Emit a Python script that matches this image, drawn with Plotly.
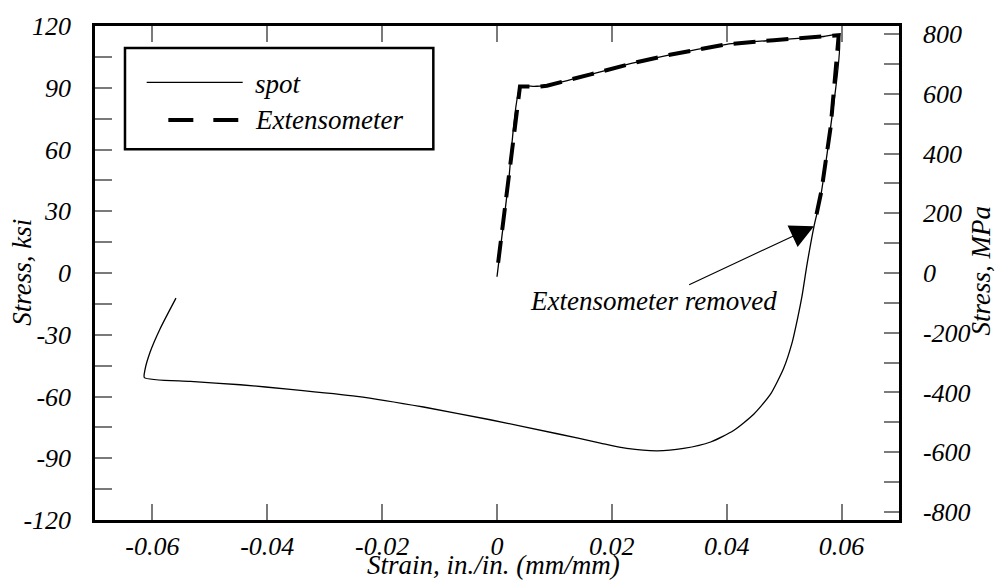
import plotly.graph_objects as go

# ---- data (strain in in./in., stress in ksi) ----
spot_x = [0.0000, 0.0020, 0.0041, 0.0065, 0.0087, 0.0163, 0.0243, 0.0301, 0.0400, 0.0482,
          0.0569, 0.0595, 0.0581, 0.0563, 0.0552, 0.0540, 0.0531, 0.0523, 0.0514, 0.0499,
          0.0476, 0.0447, 0.0412, 0.0372, 0.0325, 0.0279, 0.0226, 0.0180, 0.0105, -0.0012,
          -0.0128, -0.0244, -0.0360, -0.0447, -0.0534, -0.0614, -0.0613, -0.0604, -0.0587, -0.0559]
spot_y = [-1.8, 44.0, 90.5, 90.7, 91.0, 96.5, 102.4, 106.0, 111.1, 113.1,
          114.9, 115.5, 71.0, 36.2, 22.7, 4.4, -11.4, -22.6, -33.7, -46.4,
          -59.0, -68.6, -76.5, -82.1, -85.2, -86.4, -85.2, -82.6, -78.1, -71.3,
          -65.1, -59.9, -56.5, -54.3, -52.7, -50.8, -47.1, -38.4, -27.3, -12.2]

ext_x = [0.0002, 0.0040, 0.0075, 0.0087, 0.0163, 0.0243, 0.0301, 0.0400, 0.0482, 0.0569,
         0.0595, 0.0581, 0.0565, 0.0556]
ext_y = [5.0, 90.6, 90.6, 91.0, 96.5, 102.4, 106.0, 111.1, 113.1, 114.9,
         115.5, 71.0, 40.0, 28.0]

x_ticks = [-0.06, -0.04, -0.02, 0, 0.02, 0.04, 0.06]
x_labels = ["-0.06", "-0.04", "-0.02", "0", "0.02", "0.04", "0.06"]
ksi_ticks = [-120, -90, -60, -30, 0, 30, 60, 90, 120]
ksi_labels = ["-120", "-90", "-60", "-30", "0", "30", "60", "90", "120"]
mpa_ticks = [-800, -600, -400, -200, 0, 200, 400, 600, 800]
mpa_labels = ["-800", "-600", "-400", "-200", "0", "200", "400", "600", "800"]

KSI_TO_MPA = 6.894757
FAM = "Liberation Serif"
TXT = "black"
TICKCOL = "#7a7a7a"


def f(size):
    return dict(family=FAM, size=size, color=TXT, style="italic", weight=400)


fig = go.Figure()
fig.add_trace(go.Scatter(x=spot_x, y=spot_y, mode="lines", name="spot",
                         line=dict(color="black", width=1.3, shape="spline", smoothing=0.6),
                         showlegend=False))
fig.add_trace(go.Scatter(x=ext_x, y=ext_y, mode="lines", name="Extensometer",
                         line=dict(color="black", width=4, dash="22px,11px"), showlegend=False))
# invisible trace to activate the MPa axis
fig.add_trace(go.Scatter(x=[None], y=[None], yaxis="y2", showlegend=False, hoverinfo="skip"))

fig.update_layout(
    width=995, height=584,
    margin=dict(l=95, r=96, t=18, b=64),
    paper_bgcolor="white", plot_bgcolor="white",
    showlegend=False,
    xaxis=dict(range=[-0.07, 0.07], tickvals=x_ticks, ticktext=x_labels,
               ticks="inside", ticklen=16, tickwidth=1.5, tickcolor=TICKCOL,
               showline=True, linecolor="black", linewidth=2.5, mirror="ticks",
               showgrid=False, zeroline=False, ticklabelstandoff=1,
               tickfont=f(26)),
    yaxis=dict(range=[-120, 120], tickvals=ksi_ticks, ticktext=ksi_labels,
               ticks="inside", ticklen=17, tickwidth=1.5, tickcolor=TICKCOL,
               minor=dict(dtick=15, tick0=0, ticks="inside", ticklen=17, tickwidth=1.5, tickcolor=TICKCOL),
               showline=True, linecolor="black", linewidth=2.5,
               showgrid=False, zeroline=False, ticklabelstandoff=16,
               tickfont=f(26)),
    yaxis2=dict(range=[-120 * KSI_TO_MPA, 120 * KSI_TO_MPA], overlaying="y", side="right",
                tickvals=mpa_ticks, ticktext=mpa_labels,
                ticks="inside", ticklen=15, tickwidth=1.5, tickcolor=TICKCOL,
                minor=dict(dtick=100, tick0=0, ticks="inside", ticklen=15, tickwidth=1.5, tickcolor=TICKCOL),
                showline=True, linecolor="black", linewidth=2.5,
                showgrid=False, zeroline=False, ticklabelstandoff=16,
                tickfont=f(26)),
)

# axis titles
fig.add_annotation(text="Strain, in./in. (mm/mm)", xref="paper", yref="paper",
                   x=0.496, y=-0.092, xanchor="center", yanchor="middle", showarrow=False,
                   font=f(27))
fig.add_annotation(text="Stress, ksi", xref="paper", yref="paper",
                   x=-0.091, y=0.502, xanchor="center", yanchor="middle", textangle=-90,
                   showarrow=False, font=f(27))
fig.add_annotation(text="Stress, MPa", xref="paper", yref="paper",
                   x=1.102, y=0.505, xanchor="center", yanchor="middle", textangle=-90,
                   showarrow=False, font=f(27))

# legend (drawn manually)
fig.add_shape(type="rect", xref="paper", yref="paper", x0=0.0373, x1=0.4208, y0=0.7506, y1=0.9556,
              line=dict(color="black", width=2.5), fillcolor="white", layer="below")
fig.add_shape(type="line", xref="paper", yref="paper", x0=0.0643, x1=0.1837, y0=0.886, y1=0.886,
              line=dict(color="black", width=1.3))
fig.add_shape(type="line", xref="paper", yref="paper", x0=0.0912, x1=0.1782, y0=0.8097, y1=0.8097,
              line=dict(color="black", width=4, dash="25px,20px"))
fig.add_annotation(text="spot", xref="paper", yref="paper", x=0.196, y=0.8826,
                   xanchor="left", yanchor="middle", showarrow=False, font=f(27))
fig.add_annotation(text="Extensometer", xref="paper", yref="paper", x=0.196, y=0.8103,
                   xanchor="left", yanchor="middle", showarrow=False, font=f(27))

# "Extensometer removed" callout
fig.add_annotation(text="Extensometer removed", xref="x", yref="y", x=0.0273, y=-13.7,
                   xanchor="center", yanchor="middle", showarrow=False, font=f(27))
fig.add_annotation(text="", xref="x", yref="y", x=0.0552, y=22.7,
                   axref="x", ayref="y", ax=0.0332, ay=-6.0,
                   showarrow=True, arrowhead=2, arrowsize=4.3, arrowwidth=1.1, arrowcolor="black")

fig.write_html("out.html")
